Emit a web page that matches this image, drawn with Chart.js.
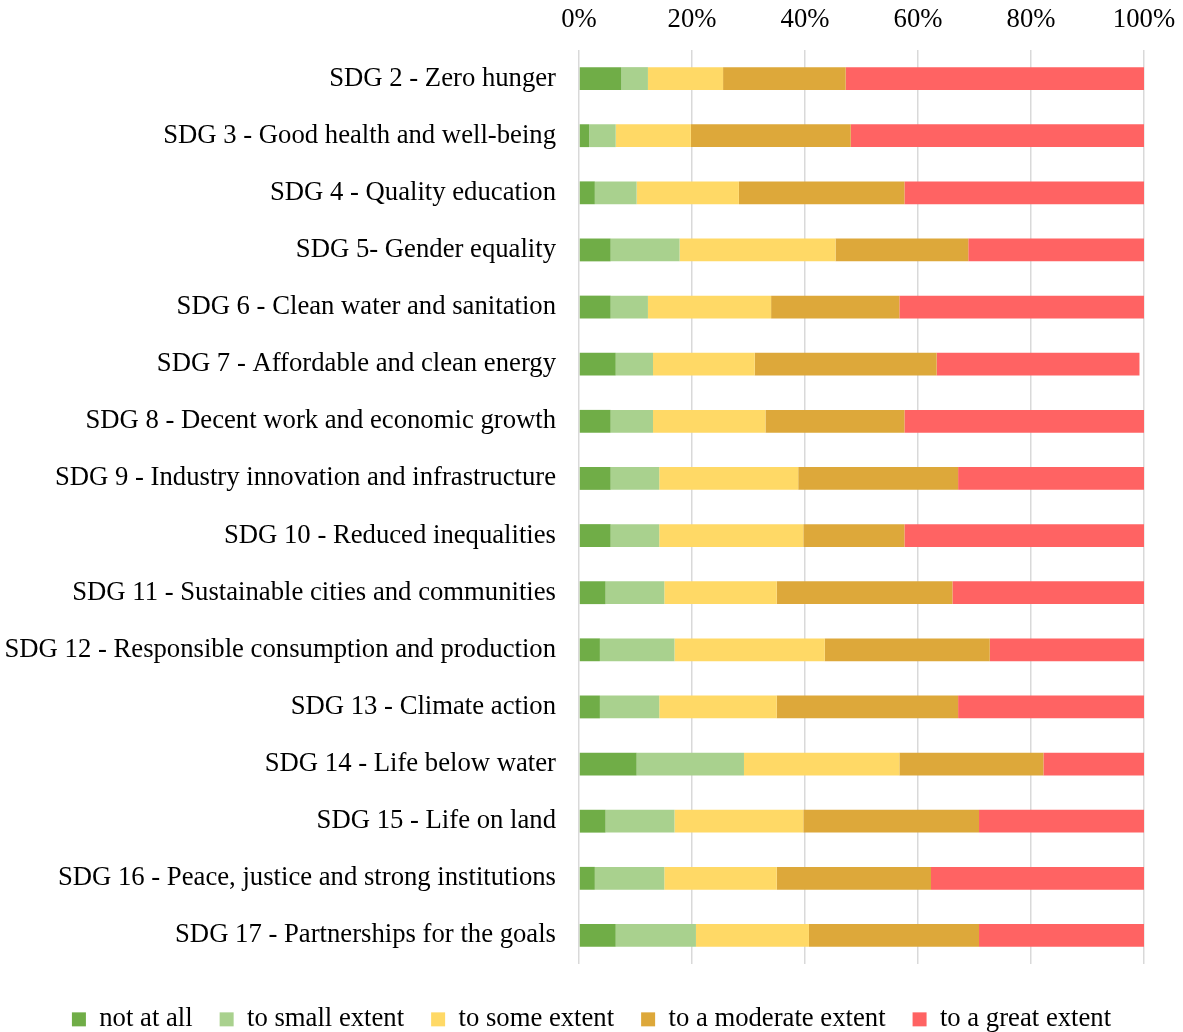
<!DOCTYPE html>
<html>
<head>
<meta charset="utf-8">
<title>SDG extent chart</title>
<script src="https://cdn.jsdelivr.net/npm/chart.js@4.4.1/dist/chart.umd.min.js"></script>
<style>
    html, body { margin: 0; padding: 0; background: #fff; }
    .chart-wrapper { width: 1183px; height: 1032px; }
</style>
</head>
<body>
<div class="chart-wrapper"><canvas id="sdgChart"></canvas></div>
<script>
// categories
const sdgLabels = [
    'SDG 2 - Zero hunger',
    'SDG 3 - Good health and well-being',
    'SDG 4 - Quality education',
    'SDG 5- Gender equality',
    'SDG 6 - Clean water and sanitation',
    'SDG 7 - Affordable and clean energy',
    'SDG 8 - Decent work and economic growth',
    'SDG 9 - Industry innovation and infrastructure',
    'SDG 10 - Reduced inequalities',
    'SDG 11 - Sustainable cities and communities',
    'SDG 12 - Responsible consumption and production',
    'SDG 13 - Climate action',
    'SDG 14 - Life below water',
    'SDG 15 - Life on land',
    'SDG 16 - Peace, justice and strong institutions',
    'SDG 17 - Partnerships for the goals'
];

// series values (%)
const notAtAll       = [7.5, 1.8, 2.8, 5.6, 5.6, 6.5, 5.6, 5.6, 5.6, 4.7, 3.7, 3.7, 10.2, 4.7, 2.8, 6.5];
const smallExtent    = [4.7, 4.7, 7.4, 12.2, 6.6, 6.6, 7.5, 8.6, 8.6, 10.4, 13.2, 10.5, 19.0, 12.2, 12.3, 14.2];
const someExtent     = [13.3, 13.3, 18.1, 27.6, 21.8, 18.0, 19.9, 24.6, 25.5, 19.9, 26.6, 20.8, 27.5, 22.8, 19.9, 20.0];
const moderateExtent = [21.7, 28.3, 29.3, 23.5, 22.7, 32.2, 24.6, 28.3, 17.9, 31.1, 29.2, 32.1, 25.5, 31.1, 27.3, 30.1];
const greatExtent    = [52.8, 51.9, 42.4, 31.1, 43.3, 35.9, 42.4, 32.9, 42.4, 33.9, 27.3, 32.9, 17.8, 29.2, 37.7, 29.2];

const seriesNames = ['not at all', 'to small extent', 'to some extent', 'to a moderate extent', 'to a great extent'];
const seriesColors = ['#70AD47', '#A9D18E', '#FFD966', '#DDA83A', '#FF6363'];

// x axis ticks
const tickValues = [0, 20, 40, 60, 80, 100];

const fontSize = 26.7;

Chart.defaults.font.family = "'Liberation Serif', 'Times New Roman', serif";
Chart.defaults.font.size = fontSize;
Chart.defaults.color = '#000';

const allSeries = [notAtAll, smallExtent, someExtent, moderateExtent, greatExtent];

const sdgChart = new Chart(document.getElementById('sdgChart'), {
    type: 'bar',
    data: {
        labels: sdgLabels,
        datasets: allSeries.map((values, i) => ({
            label: seriesNames[i],
            data: values,
            backgroundColor: seriesColors[i],
            borderWidth: 0,
            barPercentage: 0.4,
            categoryPercentage: 1.0
        }))
    },
    options: {
        indexAxis: 'y',
        responsive: true,
        maintainAspectRatio: false,
        animation: false,
        layout: {
            padding: 0
        },
        plugins: {
            tooltip: { enabled: false },
            legend: {
                position: 'bottom',
                maxHeight: 68,
                title: {
                    display: true,
                    text: '',
                    font: { size: 1, lineHeight: 1 },
                    padding: { top: 0, bottom: 14 }
                },
                labels: {
                    boxWidth: 14,
                    boxHeight: 14,
                    padding: 27,
                    color: '#000',
                    font: { size: fontSize }
                }
            }
        },
        scales: {
            x: {
                position: 'top',
                stacked: true,
                min: 0,
                max: 100,
                afterBuildTicks: function(scale) {
                    scale.ticks = tickValues.map(v => ({ value: v }));
                },
                afterFit: function(scale) {
                    scale.height = 50;
                    scale.paddingLeft = 0;
                    scale.paddingRight = 39;
                },
                ticks: {
                    padding: 14,
                    font: { size: fontSize },
                    callback: function(value) {
                        return value + '%';
                    }
                },
                grid: {
                    color: '#D9D9D9',
                    lineWidth: 1.5,
                    drawTicks: false
                },
                border: {
                    display: false
                }
            },
            y: {
                stacked: true,
                afterFit: function(scale) {
                    scale.width = 579;
                },
                ticks: {
                    padding: 23,
                    font: { size: fontSize }
                },
                grid: {
                    display: false,
                    drawTicks: false
                },
                border: {
                    display: false
                }
            }
        }
    }
});
</script>
</body>
</html>
